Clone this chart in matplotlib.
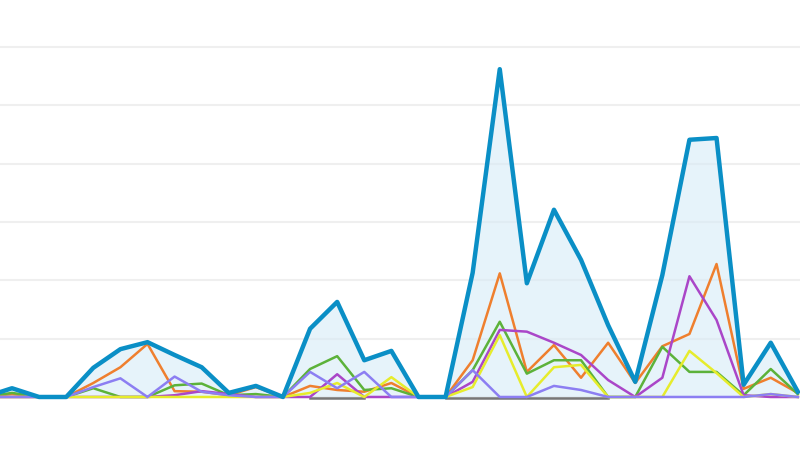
import numpy as np
import matplotlib
matplotlib.use("Agg")
import matplotlib.pyplot as plt

# one value per day, first point sits just off the left edge
days = list(range(-1, 30))

total = [0, 1.5, 0, 0, 5.0, 8.2, 9.4, 7.2, 5.1, 0.7, 1.9, 0, 11.7, 16.3, 6.3, 7.9,
         0, 0, 21.3, 56.2, 19.5, 32.1, 23.5, 12.3, 2.6, 20.9, 44.1, 44.4, 2.1, 9.3, 0.9]
orange = [0, 0.5, 0, 0, 2.4, 5.1, 9.1, 1.0, 0.9, 0.3, 1.7, 0, 1.9, 1.2, 0.9, 2.4,
          0, 0, 6.3, 21.2, 4.3, 8.9, 3.3, 9.3, 2.4, 8.7, 10.8, 22.8, 1.4, 3.3, 0.7]
green = [0, 0.7, 0, 0, 1.5, 0, 0, 2.0, 2.3, 0.3, 0.5, 0, 4.8, 7.0, 1.2, 1.5,
         0, 0, 4.6, 12.9, 4.0, 6.3, 6.3, 0, 0, 8.6, 4.3, 4.3, 0.3, 4.8, 0.5]
purple = [0, 0, 0, 0, 0, 0, 0, 0.3, 1.0, 0.5, 0, 0, 0, 3.9, 0, 0,
          0, 0, 2.6, 11.5, 11.2, 9.3, 7.2, 2.9, 0, 3.3, 20.7, 13.2, 0.3, 0, 0]
yellow = [0, 0, 0, 0, 0, 0, 0, 0, 0, 0, 0, 0, 0.7, 2.4, 0, 3.4,
          0, 0, 1.7, 10.6, 0, 5.1, 5.5, 0, 0, 0, 7.9, 4.1, 0, 0.5, 0]
lavender = [0, 0, 0, 0, 1.7, 3.2, 0, 3.5, 0.9, 0.3, 0, 0, 4.3, 1.5, 4.3, 0,
            0, 0, 4.6, 0, 0, 1.9, 1.2, 0, 0, 0, 0, 0, 0, 0.5, 0]
dark = [np.nan] * 12 + [-0.12] * 3 + [np.nan] * 2 + [-0.12] * 7 + [np.nan] * 7

grid_levels = [0, 10, 20, 30, 40, 50, 60]

fig = plt.figure(figsize=(8, 4.51), dpi=100)
ax = fig.add_axes([0, 0, 1, 1])

for g in grid_levels:
    ax.axhline(g, color="#efefef", lw=1.5, zorder=0)

ax.fill_between(days, total, 0, color="#d6ebf7", alpha=0.6, lw=0, zorder=1)

ax.plot(days, dark, color="#555555", lw=1.8, alpha=0.8, zorder=2)
ax.plot(days, orange, color="#ef7f2e", lw=1.8, zorder=3)
ax.plot(days, green, color="#5cb23a", lw=1.8, zorder=3)
ax.plot(days, purple, color="#aa46c8", lw=1.8, zorder=3)
ax.plot(days, yellow, color="#e6ec2c", lw=1.8, zorder=3)
ax.plot(days, lavender, color="#8c7ef2", lw=1.8, zorder=4)
ax.plot(days, total, color="#0a8fc6", lw=3.2, zorder=5)

ax.set_xlim(-0.443, 29.08)
ax.set_ylim(-9.26, 68.06)
ax.axis("off")

fig.savefig("out.png", dpi=100, facecolor="white")
